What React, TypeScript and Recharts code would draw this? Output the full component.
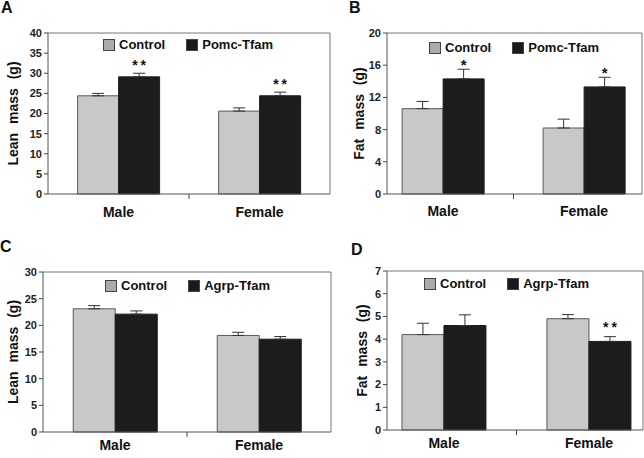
import React from 'react';
import { BarChart, Bar, XAxis, YAxis, ErrorBar, LabelList, Legend, CartesianGrid } from 'recharts';

const sexes = ['Male', 'Female'];

// Panel A: Pomc lean mass
const pomcLeanControl = [24.4, 20.6];
const pomcLeanControlErr = [0.6, 0.8];
const pomcLeanTfam = [29.1, 24.4];
const pomcLeanTfamErr = [0.9, 0.9];
const pomcLeanSig = ['**', '**'];
const pomcLeanTicks = [0, 5, 10, 15, 20, 25, 30, 35, 40];

// Panel B: Pomc fat mass
const pomcFatControl = [10.6, 8.2];
const pomcFatControlErr = [0.9, 1.1];
const pomcFatTfam = [14.3, 13.3];
const pomcFatTfamErr = [1.2, 1.2];
const pomcFatSig = ['*', '*'];
const pomcFatTicks = [0, 4, 8, 12, 16, 20];

// Panel C: Agrp lean mass
const agrpLeanControl = [23.1, 18.1];
const agrpLeanControlErr = [0.6, 0.6];
const agrpLeanTfam = [22.1, 17.4];
const agrpLeanTfamErr = [0.6, 0.5];
const agrpLeanSig = ['', ''];
const agrpLeanTicks = [0, 5, 10, 15, 20, 25, 30];

// Panel D: Agrp fat mass
const agrpFatControl = [4.2, 4.9];
const agrpFatControlErr = [0.5, 0.18];
const agrpFatTfam = [4.6, 3.9];
const agrpFatTfamErr = [0.47, 0.21];
const agrpFatSig = ['', '**'];
const agrpFatTicks = [0, 1, 2, 3, 4, 5, 6, 7];

const FONT = '"Liberation Sans", Arial, Helvetica, sans-serif';
const legendSwatch = ['#ababab', '#1a1a1a'];

function buildRows(ctrl: number[], ctrlErr: number[], tfam: number[], tfamErr: number[], sig: string[]) {
  return sexes.map((s, i) => ({
    sex: s,
    c: ctrl[i],
    cErr: [0, ctrlErr[i]],
    t: tfam[i],
    tErr: [0, tfamErr[i]],
    tErrVal: tfamErr[i],
    sig: sig[i],
  }));
}

const renderLegend = (props: any) => {
  const payload = (props.payload || []).slice().sort((a: any, b: any) => (a.dataKey === 'c' ? -1 : 1) - (b.dataKey === 'c' ? -1 : 1));
  return (
    <div style={{ display: 'flex', alignItems: 'center', fontFamily: FONT, fontWeight: 'bold', fontSize: 13, lineHeight: '14px', color: '#111', whiteSpace: 'nowrap' }}>
      {payload.map((p: any, i: number) => (
        <div key={i} style={{ display: 'flex', alignItems: 'center', marginRight: i === 0 ? 21 : 0 }}>
          <span style={{ width: 12, height: 12, boxSizing: 'border-box', background: legendSwatch[i], border: '1px solid #444', marginRight: 4, display: 'inline-block' }} />
          <span>{p.value}</span>
        </div>
      ))}
    </div>
  );
};

const makeXTick = (dy: number) => {
  const memo: { x0: number | null } = { x0: null };
  return (props: any) => {
    const { x, y, payload, index } = props;
    let mid: number | null = null;
    if (index === 0) memo.x0 = x;
    else if (index === 1 && memo.x0 != null) mid = (memo.x0 + x) / 2;
    return (
      <g>
        <text x={x} y={y + dy} textAnchor="middle" fontFamily={FONT} fontWeight="bold" fontSize={14} fill="#111">
          {payload.value}
        </text>
        {mid != null ? <line x1={mid} x2={mid} y1={y} y2={y + 5} stroke="#444" strokeWidth={1} /> : null}
      </g>
    );
  };
};

const makeSig = (rows: any[], gap: number, size: number, spacing: number) => (props: any) => {
  const { index, value } = props;
  if (!value) return null;
  const vb = props.viewBox || props;
  const row = rows[index];
  if (!row) return null;
  const h = Math.abs(vb.height);
  const top = Math.min(vb.y, vb.y + vb.height);
  const ppu = h / row.t;
  const errTop = top - row.tErrVal * ppu;
  return (
    <text x={vb.x + vb.width / 2 + spacing / 2} y={errTop - gap} textAnchor="middle" fontFamily={FONT} fontWeight="bold" fontSize={size} fill="#111" style={{ letterSpacing: spacing }}>
      {value}
    </text>
  );
};

type PanelProps = {
  letter: string;
  letterPos: { x: number; y: number };
  box: { x: number; y: number; w: number; h: number };
  plot: { left: number; top: number; right: number; bottom: number };
  padding: { left: number; right: number };
  yMax: number;
  ticks: number[];
  yLabel: string;
  yLabelX: number;
  tfamName: string;
  legendPos: { x: number; y: number };
  rows: any[];
  xLabelDy: number;
  sigGap: number;
  sigSize: number;
  sigSpacing: number;
};

function Panel(p: PanelProps) {
  const xAxisH = 20;
  const yAxisW = p.plot.left - p.box.x;
  const margin = {
    top: p.plot.top - p.box.y,
    right: p.box.x + p.box.w - p.plot.right,
    left: 0,
    bottom: p.box.y + p.box.h - p.plot.bottom - xAxisH,
  };
  const cy = (p.plot.top + p.plot.bottom) / 2 - p.box.y;
  const lx = p.yLabelX;
  return (
    <>
      <div style={{ position: 'absolute', left: p.letterPos.x, top: p.letterPos.y, fontFamily: FONT, fontWeight: 'bold', fontSize: 16, lineHeight: 1, color: '#111' }}>
        {p.letter}
      </div>
      <div style={{ position: 'absolute', left: p.box.x, top: p.box.y, width: p.box.w, height: p.box.h }}>
        <BarChart width={p.box.w} height={p.box.h} data={p.rows} margin={margin} barCategoryGap="21%" barGap={0}>
          <CartesianGrid
            stroke="#777"
            horizontalCoordinatesGenerator={({ offset }: any) => [offset.top]}
            verticalCoordinatesGenerator={({ offset }: any) => [offset.left + offset.width]}
          />
          <XAxis
            dataKey="sex"
            height={xAxisH}
            tickLine={false}
            tickSize={0}
            tickMargin={0}
            axisLine={{ stroke: '#555' }}
            padding={p.padding}
            interval={0}
            tick={makeXTick(p.xLabelDy)}
          />
          <YAxis
            type="number"
            width={yAxisW}
            domain={[0, p.yMax]}
            ticks={p.ticks}
            interval={0}
            tickSize={4}
            tickMargin={2}
            tickLine={{ stroke: '#444' }}
            axisLine={{ stroke: '#555' }}
            tick={{ fontSize: 11, fontWeight: 'bold', fill: '#222', fontFamily: FONT }}
            label={() => (
              <text
                x={lx}
                y={cy}
                transform={`rotate(-90, ${lx}, ${cy})`}
                textAnchor="middle"
                dominantBaseline="central"
                fontFamily={FONT}
                fontWeight="bold"
                fontSize={14}
                fill="#111"
                style={{ wordSpacing: 5 }}
              >
                {p.yLabel}
              </text>
            )}
          />
          <Legend
            layout="horizontal"
            verticalAlign="middle"
            align="center"
            itemSorter="dataKey"
            content={renderLegend}
            wrapperStyle={{ position: 'absolute', left: p.legendPos.x, top: p.legendPos.y, width: 'auto', height: 'auto', right: 'auto', bottom: 'auto' }}
          />
          <Bar dataKey="c" name="Control" fill="#c8c8c8" stroke="#5a5a5a" strokeWidth={1} isAnimationActive={false}>
            <ErrorBar dataKey="cErr" width={6} stroke="#333" strokeWidth={1} direction="y" isAnimationActive={false} />
          </Bar>
          <Bar dataKey="t" name={p.tfamName} fill="#1c1c1c" stroke="#1c1c1c" strokeWidth={1} isAnimationActive={false}>
            <ErrorBar dataKey="tErr" width={6} stroke="#333" strokeWidth={1} direction="y" isAnimationActive={false} />
            <LabelList dataKey="sig" content={makeSig(p.rows, p.sigGap, p.sigSize, p.sigSpacing)} />
          </Bar>
        </BarChart>
      </div>
    </>
  );
}

export default function App() {
  const rowsA = buildRows(pomcLeanControl, pomcLeanControlErr, pomcLeanTfam, pomcLeanTfamErr, pomcLeanSig);
  const rowsB = buildRows(pomcFatControl, pomcFatControlErr, pomcFatTfam, pomcFatTfamErr, pomcFatSig);
  const rowsC = buildRows(agrpLeanControl, agrpLeanControlErr, agrpLeanTfam, agrpLeanTfamErr, agrpLeanSig);
  const rowsD = buildRows(agrpFatControl, agrpFatControlErr, agrpFatTfam, agrpFatTfamErr, agrpFatSig);
  return (
    <div style={{ position: 'absolute', left: 0, top: 0, width: 644, height: 458, background: '#fff', overflow: 'hidden', fontFamily: FONT }}>
      <Panel
        letter="A" letterPos={{ x: 1, y: 0 }}
        box={{ x: 0, y: 0, w: 340, h: 229 }}
        plot={{ left: 48, top: 33, right: 330, bottom: 194 }}
        padding={{ left: 0, right: 0 }}
        yMax={40} ticks={pomcLeanTicks}
        yLabel="Lean mass (g)" yLabelX={13}
        tfamName="Pomc-Tfam" legendPos={{ x: 103, y: 38 }}
        rows={rowsA} xLabelDy={23} sigGap={3} sigSize={14} sigSpacing={3}
      />
      <Panel
        letter="B" letterPos={{ x: 349, y: 0 }}
        box={{ x: 322, y: 0, w: 322, h: 229 }}
        plot={{ left: 387, top: 33, right: 642, bottom: 194 }}
        padding={{ left: -14.5, right: -12.5 }}
        yMax={20} ticks={pomcFatTicks}
        yLabel="Fat mass (g)" yLabelX={37}
        tfamName="Pomc-Tfam" legendPos={{ x: 107, y: 41 }}
        rows={rowsB} xLabelDy={22} sigGap={-1} sigSize={15} sigSpacing={0}
      />
      <Panel
        letter="C" letterPos={{ x: 0, y: 239 }}
        box={{ x: 0, y: 229, w: 340, h: 229 }}
        plot={{ left: 43, top: 272, right: 331, bottom: 432 }}
        padding={{ left: 0, right: 0 }}
        yMax={30} ticks={agrpLeanTicks}
        yLabel="Lean mass (g)" yLabelX={13}
        tfamName="Agrp-Tfam" legendPos={{ x: 105, y: 50 }}
        rows={rowsC} xLabelDy={18} sigGap={3} sigSize={14} sigSpacing={3}
      />
      <Panel
        letter="D" letterPos={{ x: 351, y: 242 }}
        box={{ x: 322, y: 229, w: 322, h: 229 }}
        plot={{ left: 387, top: 271, right: 643, bottom: 430 }}
        padding={{ left: -15.5, right: -18.5 }}
        yMax={7} ticks={agrpFatTicks}
        yLabel="Fat mass (g)" yLabelX={40}
        tfamName="Agrp-Tfam" legendPos={{ x: 102, y: 48 }}
        rows={rowsD} xLabelDy={18} sigGap={5} sigSize={14} sigSpacing={3}
      />
    </div>
  );
}
